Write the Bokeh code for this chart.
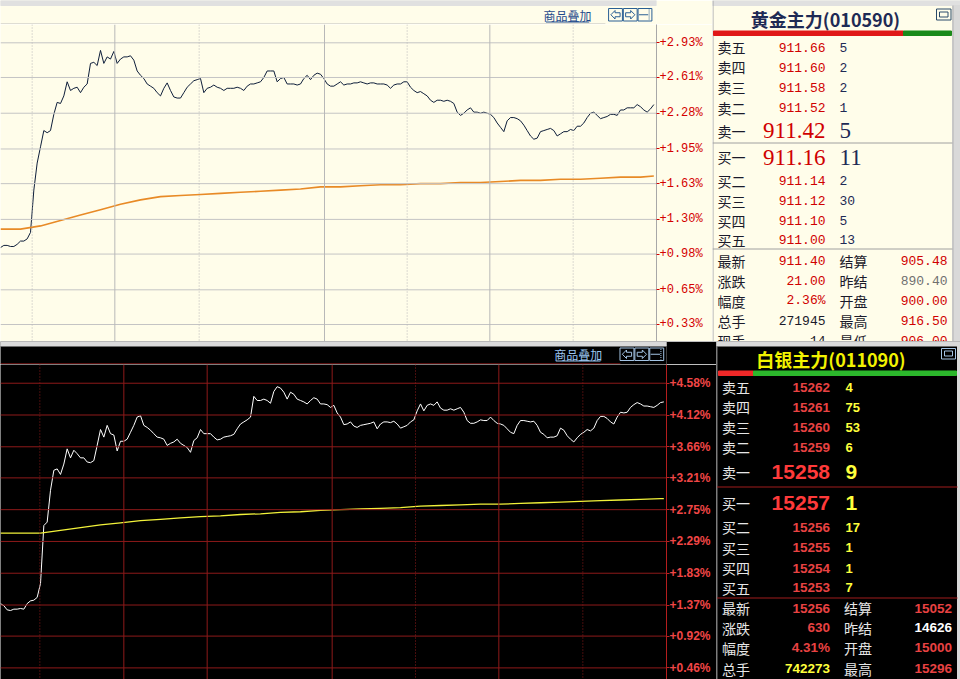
from bokeh.plotting import figure
from bokeh.models import Range1d, FixedTicker, PrintfTickFormatter, Span
from bokeh.layouts import row, column
from bokeh.embed import file_html
from bokeh.resources import INLINE
from bokeh.core.properties import value

# ---------------- data ----------------
GOLD_NAME = "黄金主力(010590)"
SILVER_NAME = "白银主力(011090)"
OVERLAY_LABEL = "商品叠加"

# gold intraday change vs. previous settle (%), one sample per step
GOLD_PCT = [
    1.04, 1.06, 1.06, 1.05, 1.05, 1.07, 1.10, 1.10, 1.12, 1.18,
    1.57, 1.82, 1.97, 2.12, 2.10, 2.12, 2.27, 2.38, 2.37, 2.44,
    2.57, 2.49, 2.51, 2.52, 2.47, 2.52, 2.55, 2.74, 2.75, 2.72,
    2.86, 2.74, 2.80, 2.78, 2.85, 2.74, 2.78, 2.80, 2.80, 2.81,
    2.77, 2.67, 2.63, 2.60, 2.55, 2.53, 2.51, 2.47, 2.44, 2.51,
    2.56, 2.49, 2.43, 2.42, 2.42, 2.47, 2.52, 2.55, 2.58, 2.59,
    2.60, 2.47, 2.51, 2.52, 2.54, 2.52, 2.51, 2.49, 2.51, 2.51,
    2.51, 2.52, 2.51, 2.49, 2.53, 2.55, 2.55, 2.56, 2.57, 2.61,
    2.67, 2.67, 2.67, 2.57, 2.60, 2.61, 2.55, 2.55, 2.55, 2.54,
    2.55, 2.60, 2.63, 2.59, 2.63, 2.65,
    2.64, 2.60, 2.55, 2.53, 2.53, 2.55, 2.57, 2.54, 2.55, 2.55,
    2.56, 2.56, 2.57, 2.56, 2.55, 2.56, 2.56, 2.55, 2.55, 2.55,
    2.54, 2.51, 2.54, 2.55, 2.55, 2.57, 2.57, 2.52, 2.49, 2.47,
    2.48, 2.46, 2.44, 2.40, 2.38, 2.40, 2.40, 2.39, 2.40, 2.39,
    2.37, 2.29, 2.26, 2.28, 2.31, 2.33, 2.29, 2.29, 2.28, 2.29,
    2.28, 2.27, 2.24, 2.19, 2.15, 2.11, 2.21, 2.24, 2.24, 2.23,
    2.21, 2.17, 2.12, 2.07, 2.04, 2.05, 2.11, 2.12, 2.13, 2.14,
    2.12, 2.07, 2.09, 2.11, 2.11, 2.13, 2.12, 2.16, 2.16, 2.19,
    2.24, 2.28, 2.29, 2.26, 2.23, 2.24, 2.25, 2.27, 2.27, 2.26,
    2.31, 2.31, 2.33, 2.33, 2.33, 2.36, 2.34, 2.31, 2.29, 2.32,
    2.36,
]
GOLD_AVG_T = [0, 6, 12, 18, 24, 30, 36, 42, 48, 54, 60, 66, 72, 78, 84, 90, 96,
              102, 108, 114, 120, 126, 132, 138, 144, 150, 156, 162, 168, 174,
              180, 186, 192, 196]
GOLD_AVG = [1.21, 1.21, 1.24, 1.29, 1.34, 1.39, 1.44, 1.48, 1.51, 1.52, 1.53,
            1.54, 1.55, 1.56, 1.57, 1.58, 1.60, 1.60, 1.61, 1.62, 1.62, 1.63,
            1.63, 1.64, 1.64, 1.65, 1.66, 1.66, 1.67, 1.67, 1.68, 1.69, 1.69, 1.70]
GOLD_TICKS = [0.33, 0.65, 0.98, 1.30, 1.63, 1.95, 2.28, 2.61, 2.93]
GOLD_TIME_LINES = [9.5, 34.3, 59.6, 97.2, 122.0, 146.8, 171.8]
GOLD_TIME_MAJOR = [False, True, False, True, False, True, False]

SILVER_PCT = [
    1.39, 1.36, 1.30, 1.29, 1.31, 1.31, 1.32, 1.31, 1.39, 1.43,
    1.44, 1.48, 1.68, 2.52, 2.57, 3.03, 3.32, 3.34, 3.26, 3.41,
    3.63, 3.50, 3.61, 3.56, 3.50, 3.50, 3.44, 3.43, 3.46, 3.68,
    3.91, 3.80, 3.97, 3.85, 3.83, 3.60, 3.74, 3.74, 3.77, 3.87,
    3.97, 4.09, 4.11, 3.97, 3.94, 3.90, 3.85, 3.80, 3.79, 3.77,
    3.68, 3.71, 3.73, 3.77, 3.71, 3.68, 3.65, 3.58, 3.75, 3.79,
    3.91, 3.85, 3.85, 3.85, 3.80, 3.76, 3.77, 3.80, 3.81, 3.82,
    3.84, 3.92, 3.99, 4.02, 4.05, 4.09, 4.39, 4.33, 4.33, 4.35,
    4.33, 4.29, 4.46, 4.53, 4.51, 4.45, 4.35, 4.45, 4.42, 4.35,
    4.33, 4.31, 4.28, 4.33, 4.37, 4.35, 4.28, 4.28, 4.27,
    4.23, 4.26, 4.15, 4.09, 3.98, 3.99, 4.02, 3.96, 3.94, 3.97,
    3.98, 3.99, 4.00, 4.02, 3.92, 3.99, 4.02, 4.02, 4.01, 4.03,
    3.99, 3.93, 3.95, 3.97, 4.02, 4.05, 4.18, 4.28, 4.18, 4.26,
    4.28, 4.26, 4.31, 4.22, 4.19, 4.19, 4.21, 4.19, 4.21, 4.23,
    4.16, 4.04, 4.00, 4.00, 4.02, 4.05, 4.04, 4.04, 4.09, 4.04,
    4.00, 3.99, 3.97, 3.92, 3.87, 3.85, 3.97, 4.04, 4.04, 4.03,
    4.02, 4.03, 3.97, 3.87, 3.84, 3.79, 3.80, 3.80, 3.82, 3.93,
    3.90, 3.82, 3.77, 3.73, 3.79, 3.84, 3.87, 3.91, 3.89, 3.93,
    4.04, 4.10, 4.10, 4.07, 4.02, 3.99, 4.09, 4.16, 4.15, 4.16,
    4.23, 4.27, 4.30, 4.28, 4.25, 4.25, 4.24, 4.23, 4.26, 4.30,
    4.31,
]
SILVER_AVG_T = [0, 6, 12, 18, 24, 30, 36, 42, 48, 54, 60, 66, 72, 78, 84, 90,
                96, 102, 108, 114, 120, 126, 132, 138, 144, 150, 156, 162, 168,
                174, 180, 186, 192, 198, 199]
SILVER_AVG = [2.41, 2.41, 2.41, 2.45, 2.49, 2.53, 2.56, 2.59, 2.61, 2.63, 2.65,
              2.66, 2.68, 2.69, 2.71, 2.72, 2.74, 2.75, 2.76, 2.77, 2.78, 2.80,
              2.81, 2.82, 2.83, 2.83, 2.84, 2.85, 2.86, 2.87, 2.88, 2.89, 2.90,
              2.91, 2.91]
SILVER_TICKS = [0.46, 0.92, 1.37, 1.83, 2.29, 2.75, 3.21, 3.66, 4.12, 4.58]
SILVER_TIME_LINES = [11.8, 37.0, 62.0, 99.5, 124.5, 149.5, 174.7]
SILVER_TIME_MAJOR = [False, True, True, True, False, True, False]

ASK_LABELS = ["卖五", "卖四", "卖三", "卖二", "卖一"]
BID_LABELS = ["买一", "买二", "买三", "买四", "买五"]

GOLD_ASK_PRICE = [911.66, 911.60, 911.58, 911.52, 911.42]
GOLD_ASK_VOL = [5, 2, 2, 1, 5]
GOLD_BID_PRICE = [911.16, 911.14, 911.12, 911.10, 911.00]
GOLD_BID_VOL = [11, 2, 30, 5, 13]
GOLD_STAT_L = ["最新", "涨跌", "幅度", "总手", "现手"]
GOLD_STAT_LV = ["911.40", "21.00", "2.36%", "271945", "14"]
GOLD_STAT_R = ["结算", "昨结", "开盘", "最高", "最低"]
GOLD_STAT_RV = ["905.48", "890.40", "900.00", "916.50", "906.00"]

SILVER_ASK_PRICE = [15262, 15261, 15260, 15259, 15258]
SILVER_ASK_VOL = [4, 75, 53, 6, 9]
SILVER_BID_PRICE = [15257, 15256, 15255, 15254, 15253]
SILVER_BID_VOL = [1, 17, 1, 1, 7]
SILVER_STAT_L = ["最新", "涨跌", "幅度", "总手"]
SILVER_STAT_LV = ["15256", "630", "4.31%", "742273"]
SILVER_STAT_R = ["结算", "昨结", "开盘", "最高"]
SILVER_STAT_RV = ["15052", "14626", "15000", "15296"]

# ---------------- styles ----------------
CREAM = "#FFFDEA"
GRAYBAND = "#E0E0E0"
CJK = "Noto Sans CJK SC"
MONO = "Liberation Mono"
SANS = "Liberation Sans"
SERIF = "Liberation Serif"


def base_fig(w, h, xr, yr, bg):
    p = figure(width=w, height=h, x_range=Range1d(*xr), y_range=Range1d(*yr),
               x_axis_location=None, y_axis_location=None, toolbar_location=None,
               output_backend="svg", min_border=0, background_fill_color=bg,
               border_fill_color=bg, outline_line_color=None)
    p.grid.visible = False
    return p


def txt(p, xs, ys, texts, font, size, color, align="left", style="normal"):
    p.text(x=xs, y=ys, text=texts, text_font=value(font), text_font_size=size,
           text_color=color, text_align=align, text_baseline="middle",
           text_font_style=style)


def icons(p, x0, y0, w, h, color):
    lefts = [x0, x0 + w, x0 + 2 * w]
    p.quad(left=lefts, right=[l + w - 1 for l in lefts], top=[y0] * 3,
           bottom=[y0 + h] * 3, fill_alpha=0, line_color=color, line_width=1)
    yc = y0 + h / 2.0
    a = x0
    p.patch([a + 2.5, a + 7, a + 7, a + 12.5, a + 12.5, a + 7, a + 7],
            [yc, y0 + 2, yc - 2, yc - 2, yc + 2, yc + 2, y0 + h - 2],
            fill_alpha=0, line_color=color, line_width=1)
    b = x0 + w
    p.patch([b + 12.5, b + 8, b + 8, b + 2.5, b + 2.5, b + 8, b + 8],
            [yc, y0 + 2, yc - 2, yc - 2, yc + 2, yc + 2, y0 + h - 2],
            fill_alpha=0, line_color=color, line_width=1)
    c = x0 + 2 * w
    p.segment(x0=[c + 1], y0=[yc], x1=[c + w - 5], y1=[yc], line_color=color)
    p.segment(x0=[c + w - 4], y0=[y0 + 1], x1=[c + w - 4], y1=[y0 + h - 1],
              line_color=color, line_dash="1 1")


def chart_fig(w, h, border_right, xr, yr, bg, ticks, grid_color, axis_color,
              label_font, label_size, label_color, label_style, tick_color):
    p = figure(width=w, height=h, x_range=Range1d(*xr), y_range=Range1d(*yr),
               x_axis_location=None, y_axis_location="right",
               toolbar_location=None, output_backend="svg",
               min_border_left=0, min_border_top=0, min_border_bottom=0,
               min_border_right=border_right, background_fill_color=bg,
               border_fill_color=bg, outline_line_color=None)
    p.grid.visible = False
    for t in ticks:
        p.add_layout(Span(location=t, dimension="width", line_color=grid_color,
                          line_width=1))
    ax = p.yaxis[0]
    ax.ticker = FixedTicker(ticks=ticks)
    ax.formatter = PrintfTickFormatter(format="+%.2f%%")
    ax.axis_line_color = axis_color
    ax.major_tick_line_color = tick_color
    ax.major_tick_out = 3
    ax.major_tick_in = 0
    ax.minor_tick_line_color = None
    ax.major_label_standoff = 0
    ax.major_label_text_font = label_font
    ax.major_label_text_font_size = label_size
    ax.major_label_text_color = label_color
    ax.major_label_text_font_style = label_style
    return p


# ================= GOLD (top) =================
hg = base_fig(712, 24, (0, 712), (24, 0), CREAM)
hg.quad(left=[0], right=[712], top=[0], bottom=[5], color=GRAYBAND)
txt(hg, [615.5], [14.5], [OVERLAY_LABEL], CJK, "12px", "#1E4A8C", "center")
hg.segment(x0=[592], y0=[21.5], x1=[639], y1=[21.5], line_color="#1E4A8C")
icons(hg, 660, 8, 16, 12.5, "#2A5F94")
hg.segment(x0=[0], y0=[23.5], x1=[656.5], y1=[23.5], line_color="#BDBDBD")

g = chart_fig(712, 317, 56, (0, 196.8), (0.173, 3.099), CREAM, GOLD_TICKS,
              "#C4C4C4", "#A8A8A8", MONO, "12px", "#D40000", "normal", "#D40000")
for loc, major in zip(GOLD_TIME_LINES, GOLD_TIME_MAJOR):
    g.add_layout(Span(location=loc, dimension="height", line_color="#B8B8B8",
                      line_width=1, line_dash="solid" if major else "1 2"))
g.line(x=list(range(len(GOLD_PCT))), y=GOLD_PCT, line_color="#0E1E3A",
       line_width=1)
g.line(x=GOLD_AVG_T, y=GOLD_AVG, line_color="#E88A26", line_width=1.6)

gp = base_fig(248, 341, (712, 960), (341, 0), CREAM)
gp.quad(left=[712], right=[960], top=[0], bottom=[5], color=GRAYBAND)
gp.quad(left=[952], right=[960], top=[5], bottom=[341], color="#D9D9D9")
gp.segment(x0=[952.5], y0=[5], x1=[952.5], y1=[341], line_color="#B4B4B4")
gp.segment(x0=[712.5], y0=[0], x1=[712.5], y1=[341], line_color="#A8A8A8")
txt(gp, [825], [18], [GOLD_NAME], CJK, "18px", "#1E2A55", "center", "bold")
gp.quad(left=[936], right=[950.5], top=[8.5], bottom=[19.5], fill_alpha=0,
        line_color="#2A4A6A")
gp.quad(left=[939], right=[947.5], top=[11.5], bottom=[16.5], fill_alpha=0,
        line_color="#2A4A6A", line_width=1)
gp.quad(left=[713], right=[903], top=[30.5], bottom=[35], color="#E01818")
gp.quad(left=[903], right=[951], top=[30.5], bottom=[35], color="#1A8A1A")

ask_y = [46.7, 66.7, 86.7, 107.3, 130]
bid_y = [156.7, 180, 200, 220, 239.3]
stat_y = [260, 280, 300, 320, 340]
DARK = "#1A1A2A"
RED = "#D00000"
NAVY = "#1E2A55"
txt(gp, [717] * 5, ask_y, ASK_LABELS, CJK, "14px", DARK)
txt(gp, [717] * 5, bid_y, BID_LABELS, CJK, "14px", DARK)
txt(gp, [825] * 4, ask_y[:4], ["%.2f" % v for v in GOLD_ASK_PRICE[:4]], MONO,
    "13px", RED, "right")
txt(gp, [839] * 4, ask_y[:4], [str(v) for v in GOLD_ASK_VOL[:4]], MONO,
    "13px", NAVY)
txt(gp, [825] * 4, bid_y[1:], ["%.2f" % v for v in GOLD_BID_PRICE[1:]], MONO,
    "13px", RED, "right")
txt(gp, [839] * 4, bid_y[1:], [str(v) for v in GOLD_BID_VOL[1:]], MONO,
    "13px", NAVY)
txt(gp, [825, 825], [ask_y[4], bid_y[0]],
    ["%.2f" % GOLD_ASK_PRICE[4], "%.2f" % GOLD_BID_PRICE[0]], SERIF, "23px",
    RED, "right")
txt(gp, [839, 839], [ask_y[4], bid_y[0]],
    [str(GOLD_ASK_VOL[4]), str(GOLD_BID_VOL[0])], SERIF, "23px", NAVY)
gp.segment(x0=[712], y0=[142.5], x1=[952], y1=[142.5], line_color="#A0A0A0")
gp.segment(x0=[712], y0=[248.5], x1=[952], y1=[248.5], line_color="#A0A0A0")
txt(gp, [717] * 5, stat_y, GOLD_STAT_L, CJK, "14px", DARK)
txt(gp, [839] * 5, stat_y, GOLD_STAT_R, CJK, "14px", DARK)
lv_col = [RED, RED, RED, DARK, DARK]
rv_col = [RED, "#707070", RED, RED, RED]
for y, t, c in zip(stat_y, GOLD_STAT_LV, lv_col):
    txt(gp, [825], [y], [t], MONO, "13px", c, "right")
for y, t, c in zip(stat_y, GOLD_STAT_RV, rv_col):
    txt(gp, [947], [y], [t], MONO, "13px", c, "right")

# ================= SILVER (bottom) =================
hs = base_fig(716, 23, (0, 716), (364, 341), "#000000")
hs.quad(left=[0], right=[716], top=[341], bottom=[345.5], color="#DADADA")
txt(hs, [621], [353.5], [OVERLAY_LABEL], CJK, "12px", "#9CC6F2", "center")
hs.segment(x0=[597], y0=[360.5], x1=[645], y1=[360.5], line_color="#9CC6F2")
icons(hs, 666, 347.5, 16, 12.5, "#A4C4E4")
hs.segment(x0=[0], y0=[363.5], x1=[666.5], y1=[363.5], line_color="#B41E1E")

s = chart_fig(716, 315, 50, (0, 199.8), (0.292, 4.851), "#000000",
              SILVER_TICKS, "#8E1A1A", "#B41E1E", SANS, "12px", "#F04646",
              "bold", "#C02020")
for loc, major in zip(SILVER_TIME_LINES, SILVER_TIME_MAJOR):
    s.add_layout(Span(location=loc, dimension="height", line_color="#8E1A1A",
                      line_width=1, line_dash="solid" if major else "1 2"))
s.line(x=list(range(len(SILVER_PCT))), y=SILVER_PCT, line_color="#FFFFFF",
       line_width=1)
s.line(x=SILVER_AVG_T, y=SILVER_AVG, line_color="#F2F23A", line_width=1.3)

sp = base_fig(244, 338, (716, 960), (679, 341), "#000000")
sp.quad(left=[716], right=[960], top=[341], bottom=[345.5], color="#DADADA")
sp.quad(left=[957], right=[960], top=[345.5], bottom=[679], color="#D9D9D9")
sp.segment(x0=[716.5], y0=[345.5], x1=[716.5], y1=[679], line_color="#7A7A7A")
txt(sp, [830.5], [358], [SILVER_NAME], CJK, "18px", "#F2F200", "center", "bold")
sp.quad(left=[941], right=[955], top=[348], bottom=[358.5], fill_alpha=0,
        line_color="#A4C4E4")
sp.quad(left=[944], right=[952], top=[350.5], bottom=[355.5], fill_alpha=0,
        line_color="#A4C4E4")
sp.quad(left=[718], right=[753], top=[370.5], bottom=[375], color="#F02828")
sp.quad(left=[753], right=[956], top=[370.5], bottom=[375], color="#2CB82C")

s_ask_y = [386.7, 406.7, 426.7, 446.7, 471.7]
s_bid_y = [502.3, 526.7, 547.3, 567.7, 587.3]
s_stat_y = [607.7, 627.3, 647.3, 668.3]
LIGHT = "#E6E6E6"
SRED = "#E84242"
YEL = "#FFFF3C"
txt(sp, [721.5] * 5, s_ask_y, ASK_LABELS, CJK, "14px", LIGHT)
txt(sp, [721.5] * 5, s_bid_y, BID_LABELS, CJK, "14px", LIGHT)
txt(sp, [829.5] * 4, s_ask_y[:4], [str(v) for v in SILVER_ASK_PRICE[:4]], SANS,
    "13.5px", SRED, "right", "bold")
txt(sp, [845] * 4, s_ask_y[:4], [str(v) for v in SILVER_ASK_VOL[:4]], SANS,
    "13px", YEL, "left", "bold")
txt(sp, [829.5] * 4, s_bid_y[1:], [str(v) for v in SILVER_BID_PRICE[1:]], SANS,
    "13.5px", SRED, "right", "bold")
txt(sp, [845] * 4, s_bid_y[1:], [str(v) for v in SILVER_BID_VOL[1:]], SANS,
    "13px", YEL, "left", "bold")
txt(sp, [829.5, 829.5], [s_ask_y[4], s_bid_y[0]],
    [str(SILVER_ASK_PRICE[4]), str(SILVER_BID_PRICE[0])], SANS, "21px",
    "#FF3A3A", "right", "bold")
txt(sp, [845, 845], [s_ask_y[4], s_bid_y[0]],
    [str(SILVER_ASK_VOL[4]), str(SILVER_BID_VOL[0])], SANS, "21px", YEL,
    "left", "bold")
sp.segment(x0=[716.5], y0=[486.5], x1=[957], y1=[486.5], line_color="#A01C1C")
sp.segment(x0=[716.5], y0=[597.5], x1=[957], y1=[597.5], line_color="#A01C1C")
txt(sp, [721.5] * 4, s_stat_y, SILVER_STAT_L, CJK, "14px", LIGHT)
txt(sp, [843.5] * 4, s_stat_y, SILVER_STAT_R, CJK, "14px", LIGHT)
slv_col = [SRED, SRED, SRED, YEL]
srv_col = [SRED, "#FFFFFF", SRED, SRED]
for y, t, c in zip(s_stat_y, SILVER_STAT_LV, slv_col):
    txt(sp, [829.5], [y], [t], SANS, "13.5px", c, "right", "bold")
for y, t, c in zip(s_stat_y, SILVER_STAT_RV, srv_col):
    txt(sp, [951.5], [y], [t], SANS, "13.5px", c, "right", "bold")

top = row(column(hg, g, spacing=0), gp, spacing=0)
bottom = row(column(hs, s, spacing=0), sp, spacing=0)
layout = column(top, bottom, spacing=0)

open("out.html", "w").write(file_html(layout, INLINE))
